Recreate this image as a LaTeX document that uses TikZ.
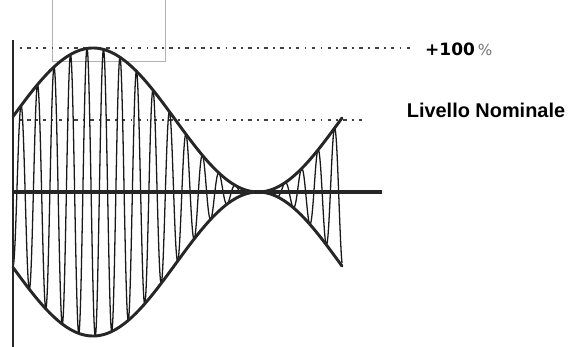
\documentclass[tikz,border=0pt]{standalone}
\usepackage{fontspec}
\setmainfont{Liberation Sans}
\newfontfamily\pctfont{DejaVu Sans}
\begin{document}
\begin{tikzpicture}[x=0.03cm,y=-0.03cm,
  axisline/.style={line width=2.6pt,color=black!85},
  envline/.style={line width=2.5pt,color=black!85,line cap=round},
  carrier/.style={line width=1.1pt,color=black!90,line join=miter},
  refline/.style={line width=1pt,color=black!75,dash pattern=on 1.5pt off 4.5pt on 3pt off 4.5pt},
  frame/.style={line width=0.6pt,color=black!30}]
\useasboundingbox (0,0) rectangle (571,347);
% light frame at top
\draw[frame] (52,-1) rectangle (165,61);
% reference lines
\coordinate (t0) at (20,48);
\coordinate (t1) at (412,48);
\coordinate (n0) at (20,120);
\coordinate (n1) at (362,120);
\draw[refline] (t0) -- (t1);
\draw[refline] (n0) -- (n1);
% carrier
\draw[carrier] plot[domain=13:342,samples=2000]
  (\x,{192-72*(1+cos((\x-93)*1.090909))*sin((\x-82.875)*21.818)});
% envelope
\draw[envline] plot[domain=13:342,samples=200]
  (\x,{192-72*(1+cos((\x-93)*1.090909))});
\draw[envline] plot[domain=13:342,samples=200]
  (\x,{192+72*(1+cos((\x-93)*1.090909))});
% axes
\coordinate (va0) at (13,40);
\coordinate (va1) at (13,347);
\coordinate (ha0) at (13,192);
\coordinate (ha1) at (382,192);
\draw[axisline,line width=2.2pt] (va0) -- (va1);
\draw[axisline,line width=3pt] (ha0) -- (ha1);
% labels
\node[anchor=west,inner sep=0pt] (pct) at (425,49.5)
  {\pctfont\fontsize{14.5}{16}\selectfont\textbf{+100}\,{\color{black!55}\fontsize{13}{15}\selectfont\%}};
\node[inner sep=0pt] (nom) at (486,110)
  {\fontsize{17}{20}\selectfont\textbf{Livello Nominale}};
\end{tikzpicture}
\end{document}
